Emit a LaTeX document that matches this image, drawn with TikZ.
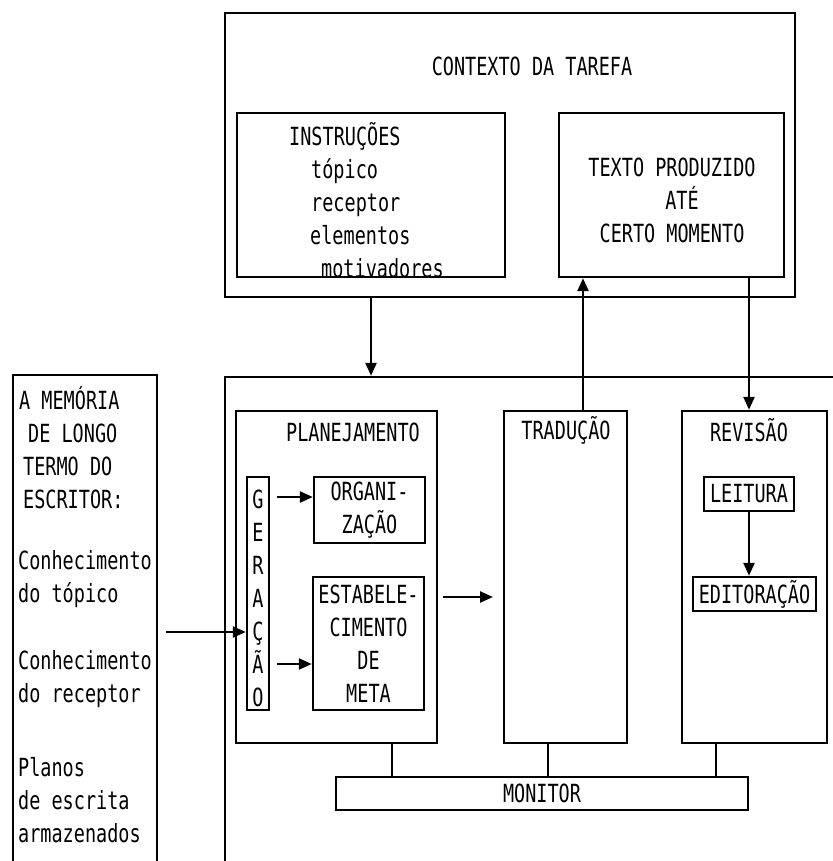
\documentclass[tikz,border=0pt]{standalone}
\usepackage{fontspec}
\usepackage{tikz}
\usetikzlibrary{arrows.meta}
\newfontfamily\typefont[FakeStretch=0.74]{DejaVu Sans Mono}

\begin{document}
\begin{tikzpicture}[>={Triangle[length=13pt,width=11pt]},x=1pt,y=-1pt,line width=2.4pt,
  box/.style={draw,inner sep=0pt},
  txt/.style={inner sep=0pt,font=\typefont\fontsize{25}{33}\selectfont}]
  \useasboundingbox (0,0) rectangle (832,861);
  % contexto da tarefa
  \node[box,minimum width=570pt,minimum height=284pt] (ctx) at (510,155) {};
  \node[txt] (ctxlbl) at (532,66) {CONTEXTO DA TAREFA};
  \node[box,minimum width=268pt,minimum height=164pt] (instr) at (371,195) {};
  \node[txt,align=left,anchor=west] (instrlbl) at (288,200)
    {INSTRUÇÕES\\\hspace*{22pt}tópico\\\hspace*{22pt}receptor\\\hspace*{21pt}elementos\\\hspace*{32pt}motivadores};
  \node[box,minimum width=225pt,minimum height=164pt] (texto) at (671.5,195) {};
  \node[txt,align=center] (textolbl) at (672,200) {TEXTO PRODUZIDO\\\hspace*{20pt}ATÉ\\CERTO MOMENTO};
  % memoria de longo termo
  \node[box,minimum width=144pt,minimum height=505pt] (mem) at (85,627.5) {};
  \node[txt,align=left,anchor=west] (mem1) at (18,448)
    {A MEMÓRIA\\\hspace*{9pt}DE LONGO\\\hspace*{4pt}TERMO DO\\\hspace*{4pt}ESCRITOR:};
  \node[txt,align=left,anchor=west] (mem2) at (17,579) {Conhecimento\\do tópico};
  \node[txt,align=left,anchor=west] (mem3) at (17,679) {Conhecimento\\do receptor};
  \node[txt,align=left,anchor=west] (mem4) at (17,800) {Planos\\de escrita\\armazenados};
  % processos
  \node[box,minimum width=625pt,minimum height=503pt] (proc) at (537.5,628.5) {};
  \node[box,minimum width=201pt,minimum height=332pt] (plan) at (336.5,577) {};
  \node[txt] (planlbl) at (353,432) {PLANEJAMENTO};
  \node[box,minimum width=22pt,minimum height=233pt] (ger) at (258,593.5) {};
  \node[txt,align=center] (gerlbl) at (258,598) {G\\E\\R\\A\\Ç\\Ã\\O};
  \node[box,txt,align=center,minimum width=111pt,minimum height=66pt] (org) at (369.5,510) {ORGANI-\\ZAÇÃO};
  \node[box,txt,align=center,minimum width=111pt,minimum height=133pt] (est) at (368.5,643.5)
    {ESTABELE-\\CIMENTO\\DE\\META};
  \node[box,minimum width=123pt,minimum height=332pt] (trad) at (565.5,577) {};
  \node[txt] (tradlbl) at (566,430) {TRADUÇÃO};
  \node[box,minimum width=145pt,minimum height=332pt] (rev) at (754.5,577) {};
  \node[txt] (revlbl) at (749,430) {REVISÃO};
  \node[box,txt,minimum width=90pt,minimum height=34pt] (leit) at (749,494) {LEITURA};
  \node[box,txt,minimum width=123pt,minimum height=34pt] (edit) at (754.5,594) {EDITORAÇÃO};
  \node[box,txt,minimum width=412pt,minimum height=33pt] (mon) at (542,793.5) {MONITOR};
  % pontos auxiliares
  \coordinate (up) at (583,0);
  \coordinate (dn) at (749,0);
  \coordinate (g1) at (277,497);
  \coordinate (g2) at (277,664);
  \coordinate (p1) at (443,597);
  \coordinate (p2) at (493,597);
  \coordinate (m1) at (166,632);
  \coordinate (l1) at (392,0);
  \coordinate (l2) at (548,0);
  \coordinate (l3) at (716,0);
  % setas
  \draw[->] (ctx.south -| instr) -- (proc.north -| instr);
  \draw[->] (trad.north -| up) -- (texto.south -| up);
  \draw[->] (texto.south -| dn) -- (rev.north -| dn);
  \draw[->] (leit) ++(0,17) -- (edit.north -| leit);
  \draw[->] (g1) -- (g1 -| org.west);
  \draw[->] (g2) -- (g2 -| est.west);
  \draw[->] (p1) -- (p2);
  \draw[->] (m1) -- (m1 -| ger.west);
  \draw (plan.south -| l1) -- (mon.north -| l1);
  \draw (trad.south -| l2) -- (mon.north -| l2);
  \draw (rev.south -| l3) -- (mon.north -| l3);
\end{tikzpicture}
\end{document}
